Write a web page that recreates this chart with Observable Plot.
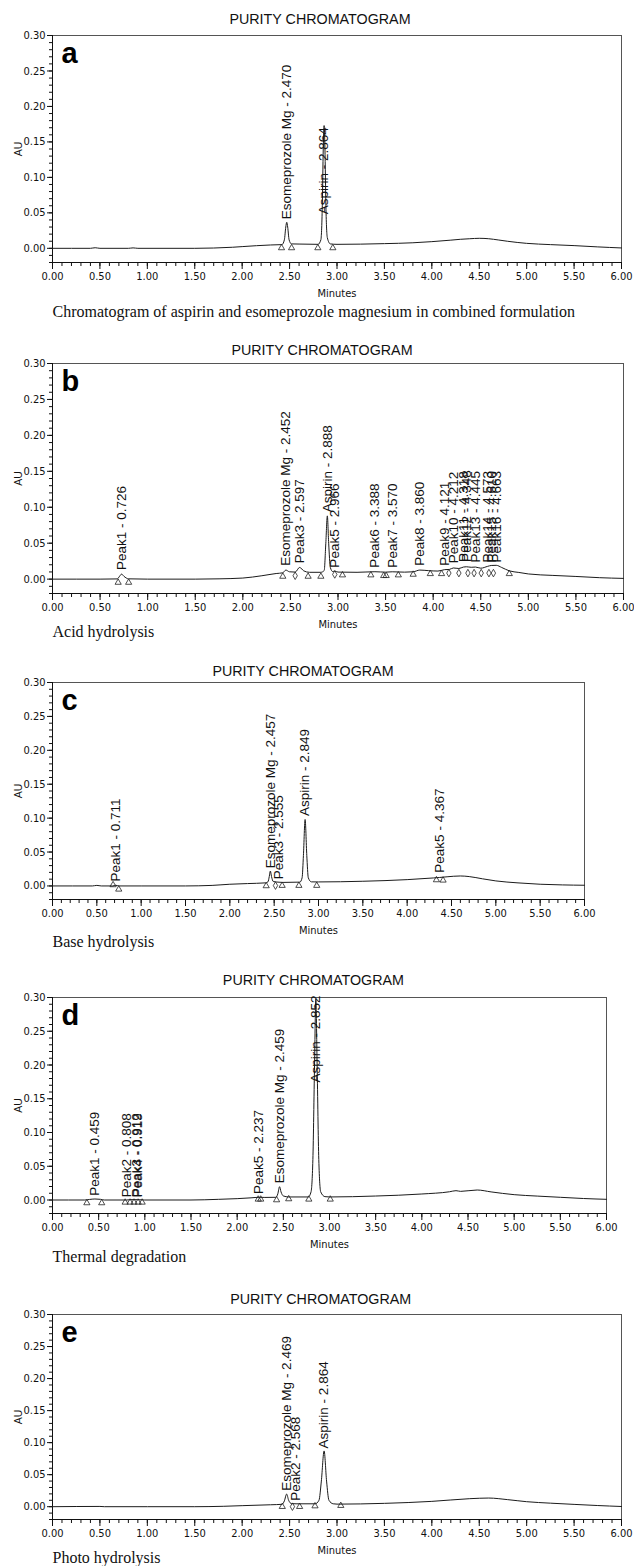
<!DOCTYPE html>
<html><head><meta charset="utf-8">
<script src="https://cdn.jsdelivr.net/npm/d3@7"></script>
<script src="https://cdn.jsdelivr.net/npm/@observablehq/plot@0.6"></script>
<style>
html,body{margin:0;padding:0;background:#fff;}
#page{position:relative;width:634px;height:1566px;overflow:hidden;background:#fff;}
</style></head><body><div id="page"></div>
<script>
// ---------------- data ----------------
const xTicks = [0, 0.5, 1, 1.5, 2, 2.5, 3, 3.5, 4, 4.5, 5, 5.5, 6];
const yTicks = [0, 0.05, 0.10, 0.15, 0.20, 0.25, 0.30];
const panelTitle = "PURITY CHROMATOGRAM";
const xLabel = "Minutes";
const yLabel = "AU";
const letters = ["a", "b", "c", "d", "e"];
const captions = [
  "Chromatogram of aspirin and esomeprozole magnesium in combined formulation",
  "Acid hydrolysis",
  "Base hydrolysis",
  "Thermal degradation",
  "Photo hydrolysis"
];

// traces: [minutes, AU]
const traceA = [[0,0],[0.4,0],[0.45,0.0008],[0.5,0],[0.8,0],[0.85,0.0006],[0.9,0],[1.5,0],[1.7,0.0004],[1.9,0.0015],[2.0,0.0024],[2.15,0.0037],[2.3,0.0047],[2.42,0.0052],[2.445,0.012],[2.46,0.03],[2.47,0.0367],[2.48,0.03],[2.495,0.012],[2.52,0.0062],[2.6,0.006],[2.8,0.0056],[2.83,0.012],[2.845,0.06],[2.855,0.14],[2.864,0.173],[2.873,0.14],[2.883,0.06],[2.898,0.015],[2.93,0.0062],[3.0,0.0056],[3.5,0.0066],[3.8,0.0078],[4.0,0.0094],[4.2,0.0115],[4.3,0.0127],[4.4,0.0135],[4.5,0.0141],[4.6,0.0135],[4.7,0.0118],[4.8,0.0099],[5.0,0.007],[5.25,0.0052],[5.5,0.0038],[5.75,0.002],[6.0,0.0005]];
const traceB = [[0,0],[0.5,0],[0.68,0.0003],[0.705,0.004],[0.726,0.007],[0.75,0.004],[0.8,0.0004],[1.0,0],[1.5,0],[1.75,0.0004],[2.0,0.0015],[2.2,0.0047],[2.35,0.0078],[2.42,0.0088],[2.452,0.0126],[2.49,0.0102],[2.55,0.0098],[2.597,0.0163],[2.64,0.0115],[2.7,0.0095],[2.82,0.0095],[2.855,0.012],[2.872,0.05],[2.888,0.088],[2.902,0.05],[2.92,0.016],[2.945,0.0105],[2.966,0.0112],[3.0,0.0098],[3.2,0.0095],[3.388,0.0103],[3.5,0.0097],[3.57,0.0102],[3.7,0.0097],[3.79,0.0102],[3.86,0.0126],[3.95,0.0118],[4.05,0.0112],[4.121,0.0132],[4.17,0.0135],[4.212,0.0155],[4.27,0.0148],[4.318,0.0168],[4.348,0.0172],[4.4,0.0165],[4.445,0.0168],[4.5,0.0152],[4.573,0.0178],[4.61,0.019],[4.663,0.0192],[4.72,0.0162],[4.8,0.0115],[4.9,0.0093],[5.0,0.0072],[5.25,0.0052],[5.5,0.0037],[5.75,0.002],[6.0,0.001]];
const traceC = [[0,0],[0.45,0],[0.5,0.0008],[0.55,0],[0.68,0],[0.711,0.001],[0.75,0],[1.0,0],[1.5,0],[1.8,0.0008],[2.0,0.0025],[2.2,0.0035],[2.4,0.0045],[2.43,0.006],[2.445,0.014],[2.457,0.022],[2.47,0.014],[2.49,0.0065],[2.555,0.0055],[2.6,0.0052],[2.79,0.0056],[2.815,0.012],[2.83,0.045],[2.849,0.098],[2.868,0.045],[2.885,0.012],[2.92,0.006],[3.0,0.0059],[3.5,0.0069],[4.0,0.0093],[4.3,0.0118],[4.367,0.0125],[4.45,0.0135],[4.6,0.0147],[4.7,0.0138],[4.85,0.0105],[5.0,0.0074],[5.25,0.0045],[5.5,0.0025],[5.75,0.0015],[6.0,0.001]];
const traceD = [[0,0],[0.35,0],[0.4,0.0008],[0.459,0.0015],[0.52,0.001],[0.56,0],[0.8,0],[0.85,0.0005],[0.92,0.0005],[1.0,0],[1.5,0],[1.8,0.001],[2.0,0.002],[2.15,0.0032],[2.237,0.004],[2.3,0.0038],[2.42,0.004],[2.44,0.009],[2.459,0.0197],[2.475,0.012],[2.5,0.006],[2.56,0.0045],[2.77,0.0045],[2.8,0.012],[2.82,0.06],[2.838,0.2],[2.852,0.298],[2.866,0.2],[2.884,0.06],[2.905,0.012],[2.95,0.005],[3.0,0.0045],[3.5,0.0059],[4.0,0.0089],[4.3,0.0122],[4.37,0.0138],[4.42,0.0128],[4.6,0.0148],[4.75,0.012],[5.0,0.0079],[5.25,0.0058],[5.5,0.004],[5.75,0.0022],[6.0,0.001]];
const traceE = [[0,0],[0.5,0.0004],[0.55,0],[1.0,0],[1.5,0],[1.8,0.0006],[2.0,0.0016],[2.3,0.003],[2.42,0.0037],[2.445,0.009],[2.469,0.0197],[2.49,0.01],[2.52,0.0048],[2.568,0.0045],[2.62,0.0045],[2.77,0.0045],[2.81,0.01],[2.835,0.04],[2.864,0.087],[2.89,0.04],[2.915,0.01],[2.96,0.0045],[3.0,0.004],[3.5,0.0052],[4.0,0.0083],[4.4,0.0125],[4.6,0.0135],[4.8,0.011],[5.0,0.0078],[5.25,0.0055],[5.5,0.0036],[5.75,0.0018],[6.0,0.0003]];

// peaks: [name, retention time, AU where the label starts]
const peaksA = [["Esomeprozole Mg",2.470,0.041],["Aspirin",2.864,0.048]];
const peaksB = [["Peak1",0.726,0.0126],["Esomeprozole Mg",2.452,0.0186],["Peak3",2.597,0.022],["Aspirin",2.888,0.093],["Peak5",2.966,0.016],["Peak6",3.388,0.016],["Peak7",3.570,0.016],["Peak8",3.860,0.0186],["Peak9",4.121,0.0186],["Peak10",4.212,0.022],["Peak11",4.318,0.024],["Peak12",4.348,0.024],["Peak13",4.445,0.023],["Peak14",4.573,0.023],["Peak15",4.610,0.023],["Peak16",4.663,0.023]];
const peaksC = [["Peak1",0.711,0.0064],["Esomeprozole Mg",2.457,0.026],["Peak3",2.555,0.0098],["Aspirin",2.849,0.103],["Peak5",4.367,0.0196]];
const peaksD = [["Peak1",0.459,0.0064],["Peak2",0.808,0.004],["Peak3",0.912,0.004],["Peak4",0.919,0.004],["Peak5",2.237,0.0089],["Esomeprozole Mg",2.459,0.0247],["Aspirin",2.852,0.174]];
const peaksE = [["Esomeprozole Mg",2.469,0.025],["Peak2",2.568,0.0093],["Aspirin",2.864,0.091]];

// integration markers: [minutes, AU, symbol]
const marksA = [[2.415,0.0005,"triangle"],[2.521,0.0005,"triangle"],[2.798,0.0005,"triangle"],[2.956,0.0005,"triangle"]];
const marksB = [[0.69,-0.0047,"triangle"],[0.80,-0.0047,"triangle"],[2.42,0.0037,"triangle"],[2.55,0.0047,"diamond"],[2.686,0.0037,"triangle"],[2.82,0.0037,"triangle"],[2.966,0.0065,"diamond"],[3.047,0.0056,"triangle"],[3.345,0.0056,"triangle"],[3.48,0.0047,"triangle"],[3.506,0.0047,"triangle"],[3.634,0.0056,"triangle"],[3.79,0.0065,"triangle"],[3.97,0.0074,"triangle"],[4.088,0.0074,"triangle"],[4.165,0.0084,"diamond"],[4.27,0.0084,"diamond"],[4.365,0.0084,"diamond"],[4.43,0.0084,"diamond"],[4.505,0.0084,"diamond"],[4.586,0.0084,"diamond"],[4.633,0.0084,"diamond"],[4.80,0.0074,"triangle"]];
const marksC = [[0.683,0.0015,"triangle"],[0.747,-0.005,"triangle"],[2.41,0,"triangle"],[2.515,0.0005,"diamond"],[2.59,0.0005,"triangle"],[2.779,0.0005,"triangle"],[2.98,0.0005,"triangle"],[4.33,0.0088,"triangle"],[4.405,0.0083,"triangle"]];
const marksD = [[0.372,-0.0044,"triangle"],[0.533,-0.0044,"triangle"],[0.787,-0.0035,"triangle"],[0.84,-0.0035,"triangle"],[0.883,-0.0035,"triangle"],[0.927,-0.0035,"triangle"],[0.971,-0.0035,"triangle"],[2.228,0.001,"triangle"],[2.255,0.001,"triangle"],[2.427,0,"triangle"],[2.558,0.0015,"triangle"],[2.776,0.001,"triangle"],[3.008,0.001,"triangle"]];
const marksE = [[2.423,0,"triangle"],[2.53,0,"diamond"],[2.606,0,"triangle"],[2.768,0.001,"triangle"],[3.04,0.0016,"triangle"]];

const traces = [traceA, traceB, traceC, traceD, traceE];
const peaks = [peaksA, peaksB, peaksC, peaksD, peaksE];
const markers = [marksA, marksB, marksC, marksD, marksE];

// ---------------- layout ----------------
const W = 634, H = 1566;
const mT = 6, mB = 40, mL = 52;
const layout = [
  {top: 35,   bottom: 262,  right: 621, titleX: 320,   titleY: 24,    capY: 317},
  {top: 363,  bottom: 593,  right: 623, titleX: 322,   titleY: 355,   capY: 637},
  {top: 682,  bottom: 899,  right: 584, titleX: 303,   titleY: 675.7, capY: 946.7},
  {top: 997,  bottom: 1213, right: 606, titleX: 313.4, titleY: 985,   capY: 1262.3},
  {top: 1314, bottom: 1519, right: 621, titleX: 320.7, titleY: 1304,  capY: 1563.3}
];
const FONT_NARROW = "'Liberation Sans Narrow','Arial Narrow','DejaVu Sans Condensed',sans-serif";
const FONT_SANS = "'Liberation Sans',Arial,Helvetica,sans-serif";
const FONT_SERIF = "'Liberation Serif','Times New Roman',Times,serif";

const minorX = d3.range(0, 61).map(i => i / 10);
const minorY = d3.range(-2, 31).map(i => i / 100);

const page = document.getElementById("page");

layout.forEach((L, i) => {
  const h = (L.bottom - L.top) + mT + mB;
  const chart = Plot.plot({
    width: W, height: h,
    marginTop: mT, marginBottom: mB, marginLeft: mL, marginRight: W - L.right,
    style: {fontFamily: FONT_NARROW, fontSize: "11px", color: "#111", background: "transparent", overflow: "visible"},
    x: {domain: [0, 6]},
    y: {domain: [-0.02, 0.30]},
    marks: [
      Plot.frame({stroke: "#555", strokeWidth: 1}),
      Plot.ruleX([0], {stroke: "#111"}),
      Plot.ruleY([-0.02], {stroke: "#111"}),
      Plot.axisX(minorX, {tickSize: 4, tickFormat: () => "", label: null}),
      Plot.axisX(xTicks, {tickSize: 7, tickPadding: 2.5, tickFormat: d => d.toFixed(2), label: null}),
      Plot.axisY(minorY, {tickSize: 3, tickFormat: () => "", label: null}),
      Plot.axisY(yTicks, {tickSize: 5, tickPadding: 2, tickFormat: d => d.toFixed(2), label: null}),
      Plot.line(traces[i], {x: d => d[0], y: d => d[1], curve: "monotone-x", stroke: "#1b1b1b", strokeWidth: 1}),
      Plot.dot(markers[i], {x: d => d[0], y: d => d[1], symbol: d => d[2], r: 2.3, stroke: "#222", strokeWidth: 0.8, fill: "none"}),
      Plot.text(peaks[i], {x: d => d[1], y: d => d[2], text: d => `${d[0]} - ${d[1].toFixed(3)}`,
        rotate: -90, textAnchor: "start", lineAnchor: "middle", fontSize: 13.5, fontFamily: FONT_SANS, fill: "#111"}),
      Plot.text([letters[i]], {frameAnchor: "top-left", dx: 9, dy: 27, lineAnchor: "bottom",
        fontSize: 29, fontWeight: "bold", fontFamily: FONT_SANS, fill: "#000"}),
      Plot.text([yLabel], {frameAnchor: "left", dx: -(mL - 18), rotate: -90, textAnchor: "middle", lineAnchor: "middle",
        fontSize: 10.5, fontFamily: FONT_SANS, fill: "#111"}),
      Plot.text([xLabel], {frameAnchor: "bottom", dy: 30.5, lineAnchor: "middle", fontSize: 11, fill: "#111"})
    ]
  });
  chart.style.position = "absolute";
  chart.style.left = "0px";
  chart.style.top = (L.top - mT) + "px";
  page.appendChild(chart);
});

// titles and captions
const ov = d3.create("svg").attr("width", W).attr("height", H)
  .style("position", "absolute").style("left", "0px").style("top", "0px").style("pointer-events", "none");
layout.forEach((L, i) => {
  ov.append("text").attr("x", L.titleX).attr("y", L.titleY).attr("text-anchor", "middle")
    .attr("font-family", FONT_SANS).attr("font-size", 14.3).attr("fill", "#111").text(panelTitle);
  ov.append("text").attr("x", 52.5).attr("y", L.capY)
    .attr("font-family", FONT_SERIF).attr("font-size", 16).attr("fill", "#111").text(captions[i]);
});
page.appendChild(ov.node());
</script>
</body></html>
